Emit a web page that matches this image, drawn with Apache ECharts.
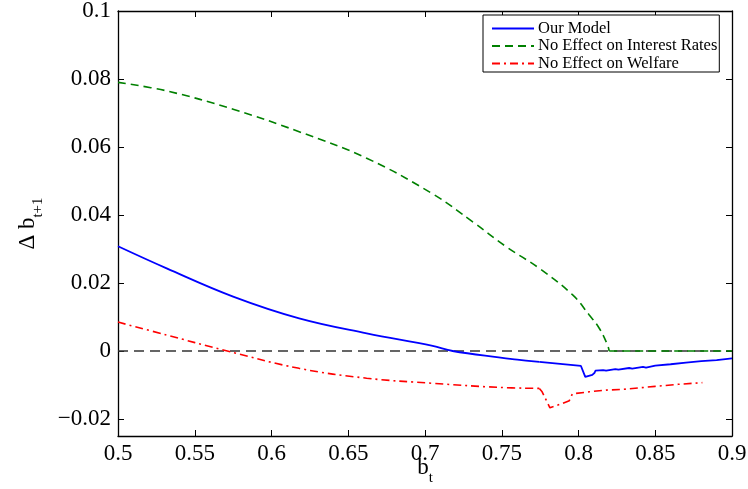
<!DOCTYPE html>
<html>
<head>
<meta charset="utf-8">
<script src="https://cdn.jsdelivr.net/npm/echarts@6/dist/echarts.min.js"></script>
<style>html,body{margin:0;padding:0;background:#fff;}#c{width:748px;height:489px;}</style>
</head>
<body>
<div id="c"></div>
<script>
// ---- data ----
const seriesNames = ['Our Model', 'No Effect on Interest Rates', 'No Effect on Welfare'];

const modelX = [0.5, 0.5317, 0.575, 0.618, 0.662, 0.705, 0.718, 0.748, 0.7615, 0.7745, 0.8016, 0.8044, 0.809, 0.8105, 0.811,
  0.816, 0.818, 0.824, 0.826, 0.833, 0.835, 0.842, 0.844, 0.85, 0.86, 0.87, 0.88, 0.89, 0.9];
const modelY = [0.0308, 0.0243, 0.016, 0.0096, 0.0052, 0.0015, 0.0, -0.0019, -0.0026, -0.0032, -0.0044, -0.0076, -0.007, -0.0064, -0.0058,
  -0.0056, -0.0058, -0.0053, -0.0055, -0.005, -0.0052, -0.0047, -0.0049, -0.0043, -0.0039, -0.0034, -0.003, -0.0027, -0.0022];
const modelSmoothEnd = 0.7745;   // curve is smooth up to here, kinked after

const interestX = [0.5, 0.5317, 0.575, 0.618, 0.662, 0.705, 0.7311, 0.7528, 0.7745, 0.7962, 0.807, 0.8135, 0.8189, 0.82, 0.9];
const interestY = [0.079, 0.0765, 0.0711, 0.0645, 0.0567, 0.0462, 0.038, 0.0307, 0.0243, 0.0165, 0.0106, 0.0067, 0.0018, 0.0, 0.0];
const interestSmoothEnd = 0.82;

const welfareX = [0.5, 0.5317, 0.5686, 0.618, 0.662, 0.705, 0.748, 0.7745, 0.7763, 0.7814, 0.7897, 0.794, 0.796, 0.807, 0.818, 0.8287, 0.85, 0.865, 0.8807];
const welfareY = [0.0085, 0.0047, 0.0003, -0.0051, -0.008, -0.0095, -0.0107, -0.011, -0.012, -0.0167, -0.0154, -0.0146, -0.0126, -0.012, -0.0115, -0.0113, -0.0104, -0.0098, -0.0093];
const welfareSmoothEnd = 0.7745;

const zeroX = [0.5, 0.9];
const zeroY = [0, 0];

const xMin = 0.5, xMax = 0.9, xStep = 0.05;
const yMin = -0.025, yMax = 0.1;
const yTickValues = [-0.02, 0, 0.02, 0.04, 0.06, 0.08, 0.1];
const yTickLabels = ['\u22120.02', '0', '0.02', '0.04', '0.06', '0.08', '0.1'];

// ---- chart ----
const pairs = (xs, ys) => xs.map((x, i) => [x, ys[i]]);
const head = (xs, ys, end) => pairs(xs, ys).filter(p => p[0] <= end);
const tail = (xs, ys, end) => pairs(xs, ys).filter(p => p[0] >= end);
const serif = 'Liberation Serif';

const chart = echarts.init(document.getElementById('c'), null, {renderer: 'canvas'});

const yLabelFmt = v => {
  let best = 0, bd = Infinity;
  yTickValues.forEach((t, i) => { const d = Math.abs(t - v); if (d < bd) { bd = d; best = i; } });
  return yTickLabels[best];
};
const xLabelFmt = v => String(Math.round(v * 100) / 100);

const tickStyle = {inside: true, length: 6, lineStyle: {color: '#000', width: 1}};
const lineStyleAxis = {show: true, onZero: false, lineStyle: {color: '#000', width: 1.3}};

const styles = [
  {color: '#0000ff', lineStyle: {color: '#0000ff', width: 1.8, type: 'solid'}, z: 3},
  {color: '#008000', lineStyle: {color: '#008000', width: 1.6, type: [8, 5]}, z: 2},
  {color: '#ff0000', lineStyle: {color: '#ff0000', width: 1.6, type: [8, 4, 2, 4]}, z: 2}
];
const mk = (idx, data, smooth) => Object.assign({
  name: seriesNames[idx], type: 'line', data: data, symbol: 'none', smooth: smooth ? 0.4 : false
}, styles[idx]);

chart.setOption({
  animation: false,
  backgroundColor: '#fff',
  grid: {left: 118, right: 16, top: 11, bottom: 53, containLabel: false, outerBoundsMode: 'none'},
  legend: {
    data: seriesNames,
    orient: 'vertical',
    left: 483,
    top: 15,
    itemWidth: 42,
    itemHeight: 14,
    itemGap: 0.5,
    padding: [5, 2, 0, 8],
    borderColor: '#000',
    borderWidth: 1,
    backgroundColor: '#fff',
    itemStyle: {opacity: 0},
    textStyle: {fontFamily: serif, fontSize: 16.5, color: '#000', padding: [0, 0, 0, -1]}
  },
  xAxis: [{
    type: 'value', min: xMin, max: xMax, interval: xStep,
    position: 'bottom',
    axisLine: lineStyleAxis,
    axisTick: tickStyle,
    splitLine: {show: false},
    axisLabel: {fontFamily: serif, fontSize: 23, color: '#000', margin: 6, formatter: xLabelFmt},
    name: '{b|b}{s|t}',
    nameLocation: 'middle',
    nameGap: 20,
    nameMoveOverlap: false,
    nameTextStyle: {
      color: '#000',
      rich: {
        b: {fontFamily: serif, fontSize: 23, color: '#000', verticalAlign: 'bottom', padding: [0, 0, 7, 0]},
        s: {fontFamily: serif, fontSize: 15, color: '#000', verticalAlign: 'bottom'}
      }
    }
  }, {
    type: 'value', min: xMin, max: xMax, interval: xStep,
    position: 'top',
    axisLine: lineStyleAxis,
    axisTick: tickStyle,
    splitLine: {show: false},
    axisLabel: {show: false}
  }],
  yAxis: [{
    type: 'value', min: yMin, max: yMax,
    position: 'left',
    axisLine: lineStyleAxis,
    axisTick: Object.assign({customValues: yTickValues}, tickStyle),
    splitLine: {show: false},
    axisLabel: {fontFamily: serif, fontSize: 23, color: '#000', margin: 7, customValues: yTickValues, formatter: yLabelFmt},
    name: '{b|\u0394 b}{s|t+1}',
    nameLocation: 'middle',
    nameGap: 72,
    nameMoveOverlap: false,
    nameTextStyle: {
      color: '#000',
      rich: {
        b: {fontFamily: serif, fontSize: 23, color: '#000', verticalAlign: 'bottom', padding: [0, 0, 7, 0]},
        s: {fontFamily: serif, fontSize: 15, color: '#000', verticalAlign: 'bottom'}
      }
    }
  }, {
    type: 'value', min: yMin, max: yMax,
    position: 'right',
    axisLine: lineStyleAxis,
    axisTick: Object.assign({customValues: yTickValues}, tickStyle),
    splitLine: {show: false},
    axisLabel: {show: false, customValues: yTickValues}
  }],
  series: [
    {
      name: '__zero', type: 'line', data: pairs(zeroX, zeroY), symbol: 'none', silent: true,
      lineStyle: {color: '#333', width: 1.3, type: [10, 6]}, z: 1
    },
    mk(0, head(modelX, modelY, modelSmoothEnd), true),
    mk(0, tail(modelX, modelY, modelSmoothEnd), false),
    mk(1, head(interestX, interestY, interestSmoothEnd), true),
    mk(1, tail(interestX, interestY, interestSmoothEnd), false),
    mk(2, head(welfareX, welfareY, welfareSmoothEnd), true),
    mk(2, tail(welfareX, welfareY, welfareSmoothEnd), false)
  ]
});
</script>
</body>
</html>
